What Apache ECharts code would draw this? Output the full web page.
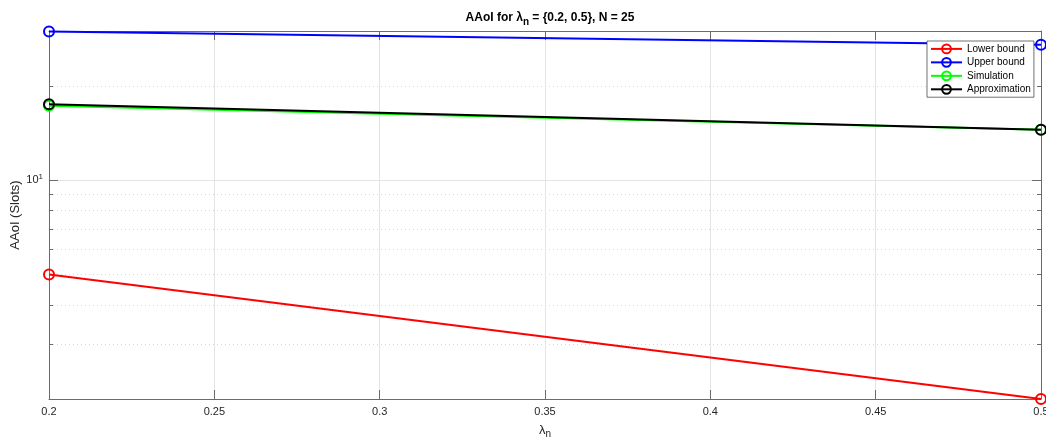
<!DOCTYPE html>
<html><head><meta charset="utf-8">
<style>html,body{margin:0;padding:0;background:#fff}#c{width:1046px;height:440px}</style>
<script src="https://cdn.jsdelivr.net/npm/echarts@6.0.0/dist/echarts.min.js"></script>
</head><body><div id="c"></div>
<script>
const lambdaN = [0.2, 0.5];
const lowerBound = [5.0, 2.0];
const upperBound = [29.9, 27.1];
const simulation = [17.3, 14.5];
const approximation = [17.5, 14.5];
const seriesNames = ['Lower bound', 'Upper bound', 'Simulation', 'Approximation'];
const seriesColors = ['#ff0000', '#0000ff', '#00ff00', '#000000'];
const yMajorTicks = [10];
const yMinorTicks = [3, 4, 5, 6, 7, 8, 9, 20];

const FONT = '"Liberation Sans", Arial, Helvetica, sans-serif';
const AX = '#6b6b6b';
const TXT = '#262626';
const allValues = [lowerBound, upperBound, simulation, approximation];

const chart = echarts.init(document.getElementById('c'), null, {renderer: 'canvas'});

function xAx(pos, main) {
  return {
    type: 'value', min: 0.2, max: 0.5, interval: 0.05, position: pos,
    axisLine: {show: true, lineStyle: {color: AX, width: 1}},
    axisTick: {show: true, inside: true, length: 9, lineStyle: {color: AX}},
    axisLabel: {show: main, color: TXT, fontSize: 11, margin: 7, fontFamily: FONT},
    splitLine: {show: main, lineStyle: {color: '#e4e4e4', width: 1}},
    name: main ? '{l|λ}{sub|n}' : '',
    nameLocation: 'middle', nameGap: 22, nameMoveOverlap: false,
    nameTextStyle: {color: TXT, fontSize: 13, fontFamily: FONT,
      rich: {l: {fontSize: 13, color: TXT, fontFamily: FONT}, sub: {fontSize: 10, color: TXT, fontFamily: FONT, padding: [8, 0, 0, 0]}}}
  };
}
function yAx(pos, ticks, len, label, split, splitStyle, line) {
  return {
    type: 'log', logBase: 10, min: 2, max: 30, position: pos,
    axisLine: {show: line, lineStyle: {color: AX, width: 1}},
    axisTick: {show: true, inside: true, length: len, customValues: ticks, lineStyle: {color: AX}},
    axisLabel: {show: label, customValues: ticks, color: TXT, fontSize: 11, margin: 6, fontFamily: FONT,
      formatter: function (v) { return '{b|10}{s|' + Math.round(Math.log10(v)) + '}'; },
      rich: {b: {fontSize: 11, color: TXT, fontFamily: FONT}, s: {fontSize: 8, color: TXT, fontFamily: FONT, padding: [0, 0, 7, 0]}}},
    splitLine: {show: split, lineStyle: splitStyle},
    minorTick: {show: false}, minorSplitLine: {show: false},
    name: label ? 'AAoI (Slots)' : '',
    nameLocation: 'middle', nameGap: 27, nameRotate: 90, nameMoveOverlap: false,
    nameTextStyle: {color: TXT, fontSize: 13, fontFamily: FONT}
  };
}

const option = {
  backgroundColor: '#fff',
  animation: false,
  title: {
    text: 'AAoI for λ{sub|n} = {0.2, 0.5}, N = 25',
    left: 545, top: 4, textAlign: 'center',
    textStyle: {fontSize: 12, fontWeight: 'bold', color: '#000', fontFamily: FONT,
      rich: {sub: {fontSize: 10, fontWeight: 'bold', color: '#000', fontFamily: FONT, padding: [8, 0, 0, 0]}}}
  },
  grid: {left: 49, right: 5, top: 31, bottom: 41, containLabel: false, outerBoundsMode: 'none'},
  legend: {
    orient: 'vertical', left: 927, top: 41,
    itemWidth: 31, itemHeight: 11, itemGap: 2.67,
    padding: [2.5, 3, 2.5, 3],
    backgroundColor: '#fff', borderColor: '#333', borderWidth: 0.7,
    textStyle: {fontSize: 10, color: '#000', fontFamily: FONT},
    data: seriesNames
  },
  xAxis: [xAx('bottom', true), xAx('top', false)],
  yAxis: [
    yAx('left', yMajorTicks, 9, true, true, {color: '#e4e4e4', width: 1}, true),
    yAx('left', yMinorTicks, 4, false, true, {color: '#d6d6d6', width: 1, type: [1, 3]}, false),
    yAx('right', yMajorTicks, 9, false, false, {}, true),
    yAx('right', yMinorTicks, 4, false, false, {}, false)
  ],
  series: seriesNames.map(function (name, k) {
    return {
      type: 'line', name: name, xAxisIndex: 0, yAxisIndex: 0,
      data: lambdaN.map(function (x, i) { return [x, allValues[k][i]]; }),
      symbol: 'circle', symbolSize: 10, showSymbol: true, showAllSymbol: true,
      lineStyle: {width: 2, color: seriesColors[k]},
      itemStyle: {color: 'rgba(255,255,255,0)', borderColor: seriesColors[k], borderWidth: 2},
      emphasis: {disabled: true},
      clip: false, z: 2 + k
    };
  })
};
chart.setOption(option);
</script></body></html>
